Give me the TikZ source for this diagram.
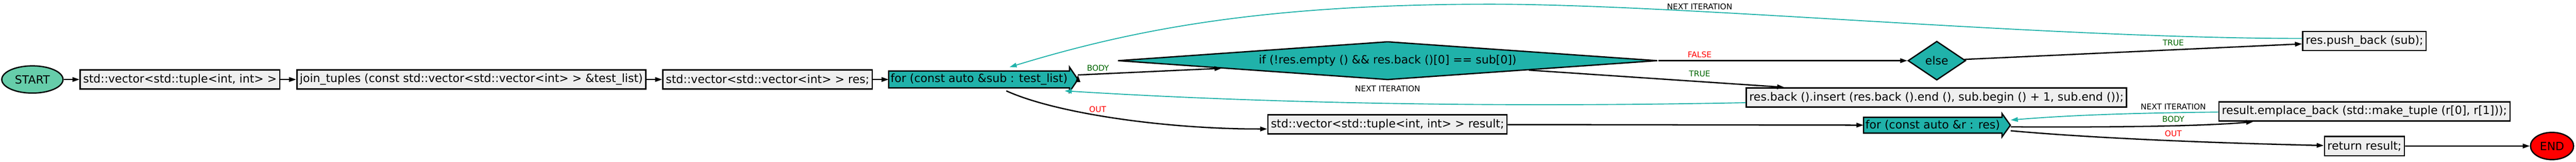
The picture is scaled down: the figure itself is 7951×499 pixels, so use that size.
\documentclass[tikz,border=0pt]{standalone}
\usepackage{fontspec}
\setmainfont{DejaVu Sans}
\usetikzlibrary{arrows.meta,positioning,shapes.geometric,calc,backgrounds}
\definecolor{loopcol}{RGB}{32,178,170}
\definecolor{startcol}{RGB}{102,205,170}
\definecolor{boxgray}{RGB}{239,239,239}
\definecolor{truecol}{RGB}{0,100,0}
\begin{document}
\begin{tikzpicture}[x=0.5pt, y=-0.5pt, node distance=24.5pt, >={Triangle[length=11pt,width=7pt]},
font=\fontsize{17.5pt}{21pt}\selectfont,
term/.style = {ellipse, draw, line width=2pt, inner sep=0pt, minimum height=42pt},
block/.style = {draw, rectangle, fill=boxgray, line width=2pt, minimum height=29.5pt, inner xsep=4.5pt},
cond/.style = {diamond, draw, fill=loopcol, line width=2pt, inner sep=0pt},
loop/.style = {rectangle, line width=2pt, minimum height=22pt, inner xsep=2pt},
cds/.style = {draw, fill=loopcol, line width=2pt, line join=miter},
flow/.style = {->, line width=2pt},
again/.style = {->, line width=1.5pt, draw=loopcol},
lbl/.style = {font=\fontsize{12.25pt}{14pt}\selectfont, inner sep=0pt}]
    \useasboundingbox (0,0) rectangle (7951,499);
    \node [term, fill=startcol, minimum width=94.5pt] at (100,245) (S) {START};
    \node [block, right=of S]      (VT)  {std::vector<std::tuple<int, int> >};
    \node [block, right=of VT]     (JT)  {join\_tuples (const std::vector<std::vector<int> > \&test\_list)};
    \node [block, right=of JT]     (RV)  {std::vector<std::vector<int> > res;};
    \node [loop, right=of RV]      (FL)  {for (const auto \&sub : test\_list)};
    \node [cond, aspect=13.7, minimum width=833pt, minimum height=59pt] at (4283,187) (IF)
          {if (!res.empty () \&\& res.back ()[0] == sub[0])};
    \node [cond, minimum width=89pt, minimum height=60pt] at (5978,187) (EL) {else};
    \node [block] at (7298,126.5)  (PB)  {res.push\_back (sub);};
    \node [block] at (5977,300.5)  (IN)  {res.back ().insert (res.back ().end (), sub.begin () + 1, sub.end ());};
    \node [block] at (4282.5,383.5) (RS) {std::vector<std::tuple<int, int> > result;};
    \node [loop] at (5965.5,386)   (FR)  {for (const auto \&r : res)};
    \node [block] at (7298,343.5)  (EB)  {result.emplace\_back (std::make\_tuple (r[0], r[1]));};
    \node [block] at (7298,450.5)  (RT)  {return result;};
    \node [term, fill=red, minimum width=66.5pt] at (7877,450) (E) {END};
    \begin{scope}[on background layer]
    \path[cds] (FL.north west) -- (FL.north east) -- ++(0,-12) -- ($(FL.east)+(26,0)$)
               -- ($(FL.south east)+(0,12)$) -- (FL.south east) -- (FL.south west) -- cycle;
    \path[cds] (FR.north west) -- (FR.north east) -- ++(0,-12) -- ($(FR.east)+(26,0)$)
               -- ($(FR.south east)+(0,12)$) -- (FR.south east) -- (FR.south west) -- cycle;
    \end{scope}
    \path[draw,flow] (S)      edge (VT)
                   (VT)    edge (JT)
                   (JT)    edge (RV)
                   (RV)    edge (FL)
                   ($(FL.east)+(26,-14)$) edge (IF)
                   (IF)    edge (EL)
                   (IF)    edge (IN)
                   (EL)    edge (PB)
                   (RS)    edge (FR)
                   (RT)    edge (E)
                    ;
    % curved edges
    \draw[flow] ($(FL.south)+(84,9)$) .. controls (3260,350) and (3600,398) .. ($(RS.west)+(0,14)$);
    \draw[flow] ($(FR.east)+(27,5)$) .. controls (6550,393) and (6820,388) .. ($(EB.south west)+(108,0)$);
    \draw[flow] ($(FR.east)+(27,17)$) .. controls (6450,425) and (6800,440) .. ($(RT.west)+(0,-2)$);
    \draw[again] ($(PB.west)+(0,-8)$) .. controls (6300,118) and (5200,13) .. (4600,13)
                 .. controls (3900,13) and (3500,90) .. ($(FL.north)+(94,-12)$);
    \draw[again] ($(IN.west)+(0,16)$) .. controls (4600,332) and (3900,318) .. ($(FL.south east)+(-15,9)$);
    \draw[again] ($(EB.west)+(0,2)$) .. controls (6600,348) and (6400,354) .. ($(FR.east)+(27,-16)$);
    % labels
    \node [lbl, text=truecol] at (3389,210) (bodyL) {BODY};
    \node [lbl, text=red]     at (3388,337) (outL)  {OUT};
    \node [lbl]               at (5246,21)  (nextT) {NEXT ITERATION};
    \node [lbl, text=red]     at (5246,168) (falseL) {FALSE};
    \node [lbl, text=truecol] at (5246,228) (trueL) {TRUE};
    \node [lbl]               at (4283,273) (nextM) {NEXT ITERATION};
    \node [lbl, text=truecol] at (6708,132) (trueE) {TRUE};
    \node [lbl]               at (6708,329) (nextR) {NEXT ITERATION};
    \node [lbl, text=truecol] at (6708,367) (bodyR) {BODY};
    \node [lbl, text=red]     at (6708,411) (outR)  {OUT};
\end{tikzpicture}
\end{document}
